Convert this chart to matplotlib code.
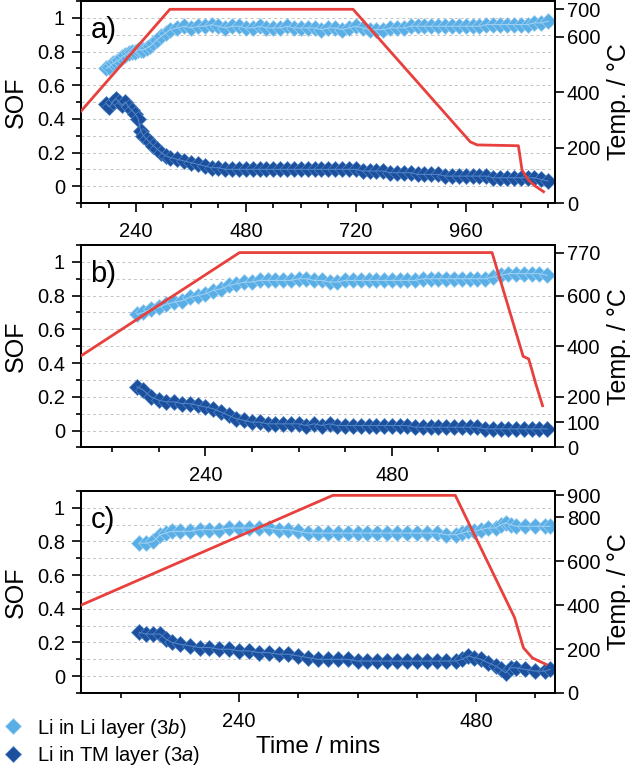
import numpy as np
import matplotlib
matplotlib.use("Agg")
import matplotlib.pyplot as plt
from matplotlib.ticker import MultipleLocator, FuncFormatter
from matplotlib.lines import Line2D

plt.rcParams['font.family'] = ['Liberation Sans', 'DejaVu Sans']
plt.rcParams['mathtext.fontset'] = 'custom'
plt.rcParams['mathtext.rm'] = 'Liberation Sans'
plt.rcParams['mathtext.it'] = 'Liberation Sans:italic'

LIGHT = '#5aaee6'
LIGHT_EDGE = '#9fd0f2'
DARK = '#1c4f9c'
DARK_EDGE = '#4f86c8'
RED = '#e8403c'

# --- Panel a) ---
a_time = [175, 182, 189, 196, 203, 210, 217, 224, 231, 238, 245,
          250, 256, 263, 270, 278, 286, 295, 305, 315,
          330, 345, 360, 375, 390, 405, 420, 435, 450, 465,
          480, 495, 510, 525, 540, 555, 570, 585, 600, 615,
          630, 645, 660, 675, 690, 705, 720, 735, 750, 765,
          780, 795, 810, 825, 840, 855, 870, 885, 900, 915,
          930, 945, 960, 975, 990, 1005, 1020, 1035, 1050, 1065,
          1080, 1095, 1110, 1125, 1140]
a_li = [0.70, 0.71, 0.73, 0.74, 0.75, 0.77, 0.78, 0.79, 0.80, 0.80, 0.81,
        0.81, 0.81, 0.82, 0.83, 0.85, 0.87, 0.89, 0.91, 0.93,
        0.94, 0.95, 0.94, 0.95, 0.95, 0.96, 0.95, 0.94, 0.95, 0.95,
        0.94, 0.94, 0.95, 0.94, 0.94, 0.94, 0.95, 0.94, 0.94, 0.94,
        0.94, 0.93, 0.94, 0.94, 0.93, 0.94, 0.95, 0.94, 0.93, 0.93,
        0.93, 0.94, 0.94, 0.94, 0.95, 0.95, 0.95, 0.95, 0.95, 0.95,
        0.95, 0.95, 0.95, 0.95, 0.95, 0.96, 0.96, 0.96, 0.96, 0.96,
        0.96, 0.96, 0.97, 0.97, 0.98]
a_tm = [0.49, 0.47, 0.50, 0.52, 0.50, 0.48, 0.50, 0.47, 0.45, 0.43, 0.40,
        0.33, 0.30, 0.28, 0.26, 0.24, 0.22, 0.20, 0.18, 0.17,
        0.16, 0.15, 0.14, 0.13, 0.12, 0.11, 0.11, 0.10, 0.10, 0.10,
        0.10, 0.10, 0.10, 0.10, 0.10, 0.10, 0.10, 0.10, 0.10, 0.10,
        0.10, 0.10, 0.10, 0.10, 0.10, 0.10, 0.10, 0.09, 0.09, 0.09,
        0.09, 0.08, 0.08, 0.08, 0.08, 0.07, 0.07, 0.07, 0.07, 0.06,
        0.06, 0.06, 0.06, 0.06, 0.06, 0.06, 0.05, 0.05, 0.05, 0.05,
        0.05, 0.05, 0.05, 0.04, 0.03]
a_temp_time = [120, 314, 714, 970, 985, 1075, 1083, 1097, 1112, 1130]
a_temp = [332, 700, 700, 221, 210, 207, 119, 83, 61, 41]

# --- Panel b) ---
b_time = [152, 160, 170, 180, 190, 200, 210, 220, 230, 240,
          250, 260, 270, 280, 290, 300, 310, 320, 330, 340,
          350, 360, 370, 380, 390, 400, 410, 420, 430, 440,
          450, 460, 470, 480, 490, 500, 510, 520, 530, 540,
          550, 560, 570, 580, 590, 600, 610, 620, 630, 640,
          650, 660, 670, 680]
b_li = [0.69, 0.70, 0.72, 0.73, 0.75, 0.76, 0.77, 0.79, 0.80, 0.81,
        0.83, 0.84, 0.86, 0.87, 0.88, 0.88, 0.89, 0.89, 0.89, 0.89,
        0.89, 0.90, 0.90, 0.89, 0.89, 0.88, 0.88, 0.89, 0.89, 0.89,
        0.89, 0.89, 0.89, 0.89, 0.89, 0.89, 0.89, 0.90, 0.90, 0.90,
        0.90, 0.90, 0.90, 0.90, 0.90, 0.90, 0.91, 0.92, 0.93, 0.93,
        0.93, 0.93, 0.93, 0.92]
b_tm = [0.26, 0.24, 0.20, 0.18, 0.17, 0.17, 0.16, 0.16, 0.15, 0.14,
        0.13, 0.11, 0.09, 0.07, 0.06, 0.05, 0.05, 0.04, 0.04, 0.04,
        0.04, 0.04, 0.03, 0.04, 0.03, 0.04, 0.03, 0.03, 0.03, 0.03,
        0.03, 0.03, 0.03, 0.03, 0.03, 0.03, 0.02, 0.02, 0.02, 0.02,
        0.02, 0.02, 0.02, 0.02, 0.02, 0.01, 0.01, 0.01, 0.01, 0.01,
        0.01, 0.01, 0.01, 0.01]
b_temp_time = [80, 284, 609, 649, 656, 659, 665, 674]
b_temp = [362, 770, 770, 360, 350, 320, 254, 165]

# --- Panel c) ---
c_time = [139, 146, 153, 160, 166, 172,
          180, 190, 200, 210, 220, 230, 240, 250, 260, 270,
          280, 290, 300, 310, 320, 330, 340, 350, 360, 370,
          380, 390, 400, 410, 420, 430, 440, 450, 460,
          466, 472, 478, 485, 492,
          500, 505, 510, 515, 520,
          530, 540, 550, 555]
c_li = [0.79, 0.79, 0.80, 0.84, 0.85, 0.86,
        0.86, 0.86, 0.87, 0.87, 0.87, 0.88, 0.88, 0.88, 0.88, 0.88,
        0.87, 0.87, 0.86, 0.85, 0.85, 0.85, 0.85, 0.85, 0.85, 0.85,
        0.85, 0.85, 0.85, 0.85, 0.85, 0.85, 0.85, 0.84, 0.84,
        0.85, 0.86, 0.86, 0.87, 0.88,
        0.88, 0.90, 0.91, 0.90, 0.89,
        0.89, 0.89, 0.89, 0.89]
c_tm = [0.26, 0.25, 0.25, 0.25, 0.22, 0.20,
        0.19, 0.18, 0.17, 0.17, 0.16, 0.16, 0.15, 0.15, 0.14, 0.14,
        0.13, 0.13, 0.12, 0.11, 0.10, 0.10, 0.10, 0.10, 0.09, 0.09,
        0.09, 0.09, 0.09, 0.09, 0.09, 0.09, 0.09, 0.09, 0.09,
        0.10, 0.12, 0.11, 0.10, 0.08,
        0.06, 0.04, 0.02, 0.05, 0.05,
        0.04, 0.03, 0.03, 0.04]
c_temp_time = [80, 335, 459, 519, 528, 537, 551]
c_temp = [400, 900, 900, 344, 206, 160, 130]

panels = [
    dict(tag='a)', time=a_time, li=a_li, tm=a_tm, ttime=a_temp_time, temp=a_temp,
         xlim=(120, 1155), xticks=[240, 480, 720, 960], tlim=(0, 730),
         tticks=[0, 200, 400, 600, 700], rect=[0.1266, 0.7353, 0.7406, 0.2634]),
    dict(tag='b)', time=b_time, li=b_li, tm=b_tm, ttime=b_temp_time, temp=b_temp,
         xlim=(80, 690), xticks=[240, 480], tlim=(0, 800),
         tticks=[0, 100, 200, 400, 600, 770], rect=[0.1266, 0.4166, 0.7406, 0.2640]),
    dict(tag='c)', time=c_time, li=c_li, tm=c_tm, ttime=c_temp_time, temp=c_temp,
         xlim=(80, 560), xticks=[240, 480], tlim=(0, 920),
         tticks=[0, 200, 400, 600, 800, 900], rect=[0.1266, 0.0965, 0.7406, 0.2634]),
]

TICK_FS = 14.5
LABEL_FS = 18

fig = plt.figure(figsize=(6.4, 7.67), dpi=100)

for i, p in enumerate(panels):
    ax = fig.add_axes(p['rect'])
    ax.plot(p['time'], p['li'], ls='none', marker='D', ms=8, color=LIGHT,
            mec=LIGHT_EDGE, mew=0.5, zorder=3)
    ax.plot(p['time'], p['li'], color=LIGHT_EDGE, lw=0.8, zorder=4)
    ax.plot(p['time'], p['tm'], ls='none', marker='D', ms=8, color=DARK,
            mec=DARK_EDGE, mew=0.5, zorder=3)
    ax.plot(p['time'], p['tm'], color=DARK_EDGE, lw=0.8, zorder=4)

    ax.set_xlim(*p['xlim'])
    ax.set_ylim(-0.1, 1.1)
    ax.set_xticks(p['xticks'])
    ax.xaxis.set_minor_locator(MultipleLocator(60))
    ax.set_yticks([0, 0.2, 0.4, 0.6, 0.8, 1.0])
    ax.yaxis.set_minor_locator(MultipleLocator(0.1))
    ax.yaxis.set_major_formatter(FuncFormatter(lambda v, pos: '%g' % round(v, 1)))
    ax.grid(axis='y', which='both', ls=(0, (3, 3)), color='#c4c4c4', lw=0.7)
    ax.set_axisbelow(True)
    ax.tick_params(which='major', direction='out', length=6.5, width=1.2,
                   labelsize=TICK_FS, pad=5)
    ax.tick_params(which='minor', direction='out', length=3.5, width=1.2)
    ax.tick_params(axis='x', which='major', pad=7)
    for s in ax.spines.values():
        s.set_linewidth(1.3)
    ax.set_ylabel('SOF', fontsize=LABEL_FS, labelpad=7)
    ax.text(0.02, 0.857, p['tag'], transform=ax.transAxes, fontsize=21,
            ha='left', va='center')

    ax2 = ax.twinx()
    ax2.plot(p['ttime'], p['temp'], color=RED, lw=2.0, zorder=5)
    ax2.set_ylim(*p['tlim'])
    ax2.set_yticks(p['tticks'])
    ax2.tick_params(direction='out', length=6.5, width=1.2, labelsize=TICK_FS, pad=2)
    ax2.set_ylabel('Temp. / \u00b0C', fontsize=LABEL_FS, labelpad=5)
    for s in ax2.spines.values():
        s.set_linewidth(1.3)

    if i == 2:
        ax.set_xlabel('Time / mins', fontsize=17.5, labelpad=4)

handles = [Line2D([], [], ls='none', marker='D', ms=8, color=LIGHT, mec=LIGHT_EDGE, mew=0.5),
           Line2D([], [], ls='none', marker='D', ms=8, color=DARK, mec=DARK_EDGE, mew=0.5)]
labels = ['Li in Li layer (3$\\it{b}$)', 'Li in TM layer (3$\\it{a}$)']
fig.legend(handles, labels, loc='center left', bbox_to_anchor=(0.005, 0.0332),
           frameon=False, fontsize=TICK_FS, handlelength=1.0, handletextpad=0.7,
           labelspacing=0.2, borderpad=0.0, borderaxespad=0.0)

fig.savefig('out.png', dpi=100)
